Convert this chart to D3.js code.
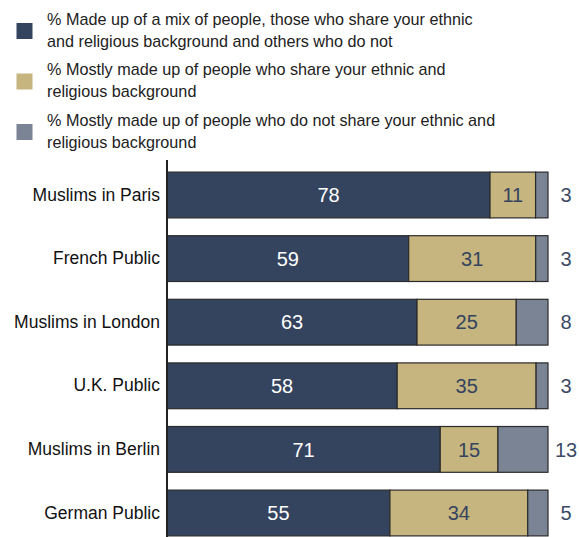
<!DOCTYPE html>
<html>
<head>
<meta charset="utf-8">
<script src="https://cdn.jsdelivr.net/npm/d3@7"></script>
<style>
  body { margin: 0; background: #fff; }
  text { font-family: "Liberation Sans", Arial, sans-serif; }
</style>
</head>
<body>
<div id="chart"></div>
<script>
const categories = ["Muslims in Paris", "French Public", "Muslims in London", "U.K. Public", "Muslims in Berlin", "German Public"];
const mixed = [78, 59, 63, 58, 71, 55];
const shareMostly = [11, 31, 25, 35, 15, 34];
const notShareMostly = [3, 3, 8, 3, 13, 5];
const seriesKeys = ["mixed", "share", "notShare"];
const seriesLabels = [
  ["% Made up of a mix of people, those who share your ethnic", "and religious background and others who do not"],
  ["% Mostly made up of people who share your ethnic and", "religious background"],
  ["% Mostly made up of people who do not share your ethnic and", "religious background"]
];
const colors = ["#34435e", "#c6b57e", "#7a8494"];

const width = 579, height = 537;
const margin = { top: 160, right: 31, bottom: 0, left: 167 };

const svg = d3.select("#chart").append("svg")
  .attr("width", width)
  .attr("height", height);

// table for stacking
const rows = categories.map((c, i) => ({
  cat: c, mixed: mixed[i], share: shareMostly[i], notShare: notShareMostly[i]
}));

const stack = d3.stack().keys(seriesKeys).offset(d3.stackOffsetExpand);
const layers = stack(rows);

const x = d3.scaleLinear().domain([0, 1]).range([margin.left, width - margin.right]);
const y = d3.scaleBand().domain(categories)
  .range([163.2, 544.8])
  .paddingInner(0.28)
  .paddingOuter(0.14);

// legend
const legend = svg.append("g");
seriesLabels.forEach((lines, i) => {
  const top = 19 + i * 50.5;
  legend.append("rect")
    .attr("x", 16.5).attr("y", top + 4)
    .attr("width", 16).attr("height", 16)
    .attr("fill", colors[i]);
  lines.forEach((t, j) => {
    legend.append("text")
      .attr("x", 47).attr("y", top + j * 22)
      .attr("dy", "0.35em")
      .attr("font-size", 16.2)
      .attr("fill", "#222")
      .text(t);
  });
});

// bars
layers.forEach((layer, k) => {
  svg.append("g").selectAll("rect")
    .data(layer)
    .join("rect")
    .attr("x", d => x(d[0]))
    .attr("y", d => y(d.data.cat))
    .attr("width", d => x(d[1]) - x(d[0]))
    .attr("height", y.bandwidth())
    .attr("fill", colors[k])
    .attr("stroke", "#2b2b2b")
    .attr("stroke-width", 1.2);
});

// value labels
const labelColors = ["#ffffff", "#34435e"];
layers.slice(0, 2).forEach((layer, k) => {
  svg.append("g").selectAll("text")
    .data(layer)
    .join("text")
    .attr("x", d => (x(d[0]) + x(d[1])) / 2)
    .attr("y", d => y(d.data.cat) + y.bandwidth() / 2)
    .attr("dy", "0.36em")
    .attr("text-anchor", "middle")
    .attr("font-size", 20)
    .attr("fill", labelColors[k])
    .text(d => d.data[seriesKeys[k]]);
});
svg.append("g").selectAll("text")
  .data(rows)
  .join("text")
  .attr("x", x(1) + 18)
  .attr("y", d => y(d.cat) + y.bandwidth() / 2)
  .attr("dy", "0.36em")
  .attr("text-anchor", "middle")
  .attr("font-size", 20)
  .attr("fill", "#3b4a66")
  .text(d => d.notShare);

// category axis
const yAxis = d3.axisLeft(y).tickSize(0).tickPadding(7);
const ax = svg.append("g")
  .attr("transform", `translate(${margin.left},0)`)
  .call(yAxis);
ax.select(".domain").remove();
ax.selectAll("text")
  .attr("font-size", 17.5)
  .attr("fill", "#111")
  .style("font-family", "'Liberation Sans', Arial, sans-serif");
svg.append("line")
  .attr("x1", margin.left).attr("x2", margin.left)
  .attr("y1", 160).attr("y2", height)
  .attr("stroke", "#222")
  .attr("stroke-width", 2);
</script>
</body>
</html>
